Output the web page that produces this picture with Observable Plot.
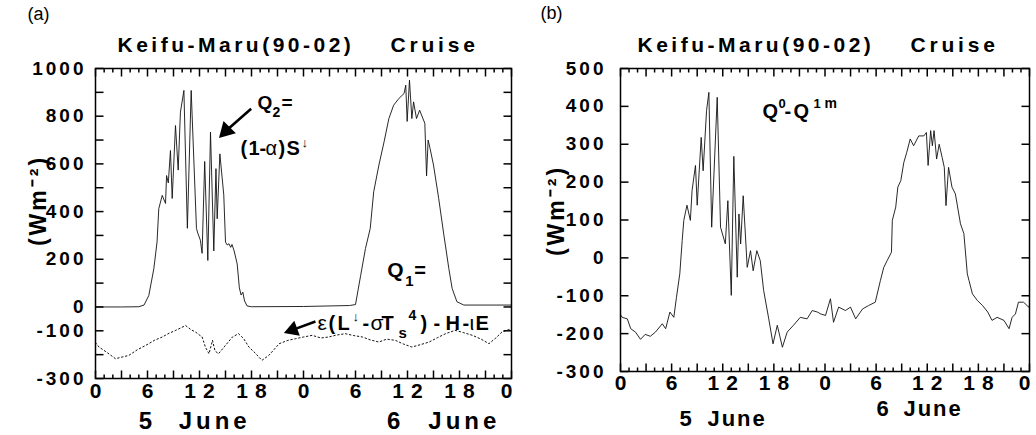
<!DOCTYPE html>
<html><head><meta charset="utf-8">
<script src="https://cdn.jsdelivr.net/npm/d3@7"></script>
<script src="https://cdn.jsdelivr.net/npm/@observablehq/plot@0.6"></script>
<style>
body{margin:0;background:#fff;}
#wrap{display:flex;width:1036px;height:435px;}
svg{background:#fff;font-family:"Liberation Sans",Arial,Helvetica,sans-serif;}
svg text{font-family:"Liberation Sans",Arial,Helvetica,sans-serif;}
g[aria-label="y-axis tick label"] text{font-weight:bold;letter-spacing:3px;}
g[aria-label="x-axis tick label"] text{font-weight:bold;letter-spacing:7px;}
</style></head><body><div id="wrap"></div>
<script>
// ---------- data ----------
// Panel (a): Q2 = (1-alpha) S (net shortwave), W m-2, hours from 0:00 5 June
const q2Hours = [0,3,5,5.6,6.15,6.73,7.1,7.3,7.7,8.08,8.2,8.4,8.65,8.85,9.23,9.54,9.8,10.2,10.6,11.04,11.65,11.8,12.1,12.3,12.6,12.96,13.27,13.65,13.9,14.04,14.35,14.8,15.0,15.2,15.4,15.6,15.75,16.0,16.35,16.6,16.8,17.0,17.2,17.5,18,24,29.3,30.0,30.6,31.15,31.7,32.1,32.7,33.3,33.85,34.4,35.0,35.6,35.8,35.96,36.23,36.5,36.7,37.04,37.4,38.0,38.2,38.38,38.6,39.0,39.6,40.2,40.77,41.15,41.7,42.5,48];
const q2Values = [0,0,1,8,48,160,272,412,468,434,551,520,656,455,761,574,817,908,330,908,329,310,280,225,610,195,733,235,580,370,642,470,272,260,265,250,262,235,180,80,50,62,25,4,1,2,6,10,133,245,329,483,595,693,790,846,874,895,930,778,951,790,860,790,825,770,550,700,665,595,455,301,161,78,22,8,8];
// Panel (a): Q1 = eps(L - sigma Ts^4) - H - lE
const q1Hours = [0,0.4,1.3,2.3,3.85,4.8,5.8,6.8,7.7,8.5,9.2,10.4,11.0,11.5,12.3,12.7,13.1,13.5,13.8,14.2,15.0,15.8,16.5,17.1,17.7,18.5,19.2,20.0,21.2,22.2,23.1,24.0,25.0,26.0,26.9,27.8,28.8,29.8,30.8,31.7,32.7,33.6,34.6,35.5,36.5,37.5,38.5,39.5,40.4,41.5,42.5,43.5,44.5,45.4,46.2,46.9,48];
const q1Values = [-150,-168,-190,-217,-203,-180,-161,-140,-126,-110,-99,-78,-95,-104,-126,-170,-196,-140,-185,-196,-161,-126,-112,-133,-168,-196,-224,-203,-154,-140,-133,-126,-119,-130,-126,-118,-112,-120,-126,-138,-147,-135,-140,-155,-168,-158,-147,-128,-112,-98,-108,-119,-135,-154,-130,-105,-91];
// Panel (b): Q0 - Q1m
const qbHours = [0,0.2,0.8,1.2,1.76,2.35,2.9,3.5,4.1,4.9,5.3,5.8,6.26,6.57,6.96,7.24,7.43,7.8,8.2,8.4,8.8,9.0,9.47,9.7,10.1,10.37,10.7,11.35,11.74,12.3,12.6,13.0,13.3,13.7,13.9,14.1,14.4,14.87,15.26,15.57,16.0,16.4,16.8,17.4,17.9,18.4,19.0,19.56,20.3,21.1,21.9,22.5,23.1,23.5,24.06,24.64,25.0,25.6,26.4,26.99,27.6,28.4,29.1,29.9,30.5,30.9,31.3,31.8,31.9,32.3,32.55,32.9,33.25,33.6,34.0,34.4,35.0,35.6,35.9,36.1,36.4,36.6,36.8,37.1,37.4,37.75,38.0,38.2,38.5,38.9,39.3,39.9,40.3,40.7,40.9,41.3,41.86,42.5,43.1,43.6,44.2,45.0,45.6,45.96,46.35,46.7,47.3,47.9,48];
const qbValues = [-150,-157,-161,-187,-196,-215,-202,-207,-196,-174,-187,-143,-157,-104,-42,46,99,139,99,178,244,139,318,230,389,437,81,424,81,37,151,-99,268,-51,116,37,164,-25,19,-34,19,-7,-86,-161,-227,-178,-236,-196,-178,-157,-161,-139,-143,-148,-152,-108,-170,-130,-139,-130,-161,-135,-126,-117,-60,-25,-7,15,99,134,187,204,252,279,314,296,322,322,331,244,336,296,336,261,300,265,239,138,239,187,169,90,64,-42,-60,-95,-112,-126,-143,-165,-157,-165,-187,-157,-148,-117,-117,-130,-125];

// ticks and labels
const hourTicks = d3.range(0, 49);
const xLabelHours = [0, 6, 12, 18, 24, 30, 36, 42];
const xLabelEnd = [48];
const yTicksA = d3.range(-300, 1001, 100);
const yLabelsA = [1000, 800, 600, 400, 200, 0, -100, -300];
const yTicksB = d3.range(-300, 501, 100);
const yLabelsB = [500, 400, 300, 200, 100, 0, -100, -200, -300];
const titleLeft = "Keifu-Maru(90-02)";
const titleRight = "Cruise";
const yLabelText = "(Wm\u207B\u00B2)";

const pts = (hs, vs) => hs.map((h, i) => ({h, v: vs[i]}));
const q2Data = pts(q2Hours, q2Values);
const q1Data = pts(q1Hours, q1Values);
const qbData = pts(qbHours, qbValues);

const SANS = "Liberation Sans, Arial, sans-serif";
const SERIF = "Liberation Serif, Times New Roman, serif";

// inward tick marks on all four sides; lengths given in px, converted with the frame size
function tickMarks(yTicks, xDom, yDom, fw, fh) {
  const major = hourTicks.filter(h => h % 3 === 0);
  const minor = hourTicks.filter(h => h % 3 !== 0);
  const uy = (yDom[1] - yDom[0]) / fh, ux = (xDom[1] - xDom[0]) / fw;
  const s = {stroke: "black", strokeWidth: 1.5};
  const vt = (d, y0, len) => Plot.link(d, {...s, x1: h => h, x2: h => h, y1: () => y0, y2: () => y0 + len * uy});
  const ht = (d, x0, len) => Plot.link(d, {...s, y1: v => v, y2: v => v, x1: () => x0, x2: () => x0 + len * ux});
  return [
    vt(major, yDom[0], 8), vt(minor, yDom[0], 4), vt(major, yDom[1], -8), vt(minor, yDom[1], -4),
    ht(yTicks, xDom[0], 8), ht(yTicks, xDom[1], -8)
  ];
}

// annotation text made of pieces (anchor in data units, pieces offset in px)
function pieces(anchor, list) {
  return list.map(p => Plot.text([anchor], {
    x: "h", y: "v", text: () => p.t, dx: p.dx, dy: p.dy || 0,
    textAnchor: "start", lineAnchor: "middle", fontSize: p.size || 20,
    fontWeight: p.serif ? "normal" : "bold",
    fontFamily: p.serif ? SERIF : SANS,
    fill: "black"
  }));
}
function arrow(a, r) {
  return [
    Plot.link([a], {x1: "h1", y1: "v1", x2: "h2", y2: "v2", stroke: "black", strokeWidth: 2.6}),
    Plot.dot([a], {x: "h2", y: "v2", symbol: "triangle", r, fill: "black", stroke: "none", rotate: a.rot})
  ];
}
function titles(dxLeft, dxRight) {
  return [
    Plot.text([titleLeft], {frameAnchor: "top-left", textAnchor: "start", lineAnchor: "middle", dx: dxLeft, dy: -23, fontSize: 21, fontWeight: "bold"}),
    Plot.text([titleRight], {frameAnchor: "top-left", textAnchor: "start", lineAnchor: "middle", dx: dxRight, dy: -23, fontSize: 21, fontWeight: "bold"})
  ];
}
function dayLabels(list, size) {
  return list.map(d => Plot.text([d.t], {x: () => d.h, frameAnchor: "bottom", lineAnchor: "middle", dy: d.dy, textAnchor: d.anchor, fontSize: size, fontWeight: "bold"}));
}
function xLabels(pad) {
  const fmt = h => String(h % 24);
  return [
    Plot.axisX(xLabelHours, {anchor: "bottom", tickSize: 0, tickPadding: pad, tickFormat: fmt, fontSize: 21, dx: 3.5, label: null}),
    Plot.axisX(xLabelEnd, {anchor: "bottom", tickSize: 0, tickPadding: pad, tickFormat: fmt, fontSize: 21, dx: -1.5, label: null})
  ];
}
function spacing(svg, text, ls) {
  d3.select(svg).selectAll("text").filter(function() { return this.textContent === text; }).style("letter-spacing", ls + "px");
}

// ---------- panel (a) ----------
const chartA = Plot.plot({
  width: 518, height: 435,
  marginLeft: 95, marginRight: 7, marginTop: 68, marginBottom: 57,
  x: {domain: [0, 48]},
  y: {domain: [-300, 1000]},
  marks: [
    Plot.line(q2Data, {x: "h", y: "v", stroke: "#111", strokeWidth: 0.9}),
    Plot.line(q1Data, {x: "h", y: "v", stroke: "#111", strokeWidth: 1, strokeDasharray: "1.5,2.5"}),
    ...xLabels(5),
    Plot.axisY(yLabelsA, {anchor: "left", tickSize: 0, tickPadding: 9, tickFormat: d => String(d), fontSize: 19, label: null}),
    Plot.frame({stroke: "black", strokeWidth: 1.5}),
    ...titles(22, 295),
    Plot.text(["(a)"], {frameAnchor: "top-left", textAnchor: "start", lineAnchor: "middle", dx: -68, dy: -54, fontSize: 18, fontFamily: SERIF}),
    Plot.text([yLabelText], {frameAnchor: "left", textAnchor: "middle", lineAnchor: "middle", rotate: -90, dx: -57, dy: -23, fontSize: 23, fontWeight: "bold"}),
    ...dayLabels([
      {t: "5", h: 5.77, dy: 43, anchor: "middle"}, {t: "June", h: 9.6, dy: 43, anchor: "start"},
      {t: "6", h: 34.4, dy: 43, anchor: "middle"}, {t: "June", h: 38.4, dy: 43, anchor: "start"}
    ], 24),
    ...pieces({h: 18.69, v: 855}, [
      {t: "Q", dx: 0, size: 19}, {t: "2", dx: 15, dy: 9, size: 14}, {t: "=", dx: 24, size: 19}
    ]),
    ...pieces({h: 16.73, v: 664}, [
      {t: "(", dx: 0, size: 20}, {t: "1", dx: 8, size: 20}, {t: "-", dx: 19, size: 20},
      {t: "\u03B1", dx: 25, size: 20, serif: true}, {t: ")", dx: 38, size: 20},
      {t: "S", dx: 46, size: 20}, {t: "\u2193", dx: 61, dy: -6, size: 13}
    ]),
    ...arrow({h1: 17.96, v1: 831, h2: 15.07, v2: 739, rot: 225}, 6.5),
    ...pieces({h: 33.66, v: 153}, [
      {t: "Q", dx: 0, size: 21}, {t: "1", dx: 18, dy: 11, size: 15}, {t: "=", dx: 27, size: 20}
    ]),
    ...pieces({h: 25.61, v: -69}, [
      {t: "\u03B5", dx: 0, size: 21, serif: true}, {t: "(", dx: 11}, {t: "L", dx: 20},
      {t: "\u2193", dx: 35, dy: -7, size: 13}, {t: "-", dx: 45}, {t: "\u03C3", dx: 53, size: 21, serif: true},
      {t: "T", dx: 64}, {t: "s", dx: 81, dy: 10, size: 15}, {t: "4", dx: 91, dy: -8, size: 14},
      {t: ")", dx: 103}, {t: "-", dx: 116}, {t: "H", dx: 128}, {t: "-", dx: 145},
      {t: "\u03B9", dx: 152, size: 21, serif: true}, {t: "E", dx: 158}
    ]),
    ...arrow({h1: 25.38, v1: -61, h2: 22.75, v2: -96, rot: 250}, 6),
    ...tickMarks(yTicksA, [0, 48], [-300, 1000], 416, 310)
  ]
});

// ---------- panel (b) ----------
const chartB = Plot.plot({
  width: 518, height: 435,
  marginLeft: 102, marginRight: 7, marginTop: 68, marginBottom: 64,
  x: {domain: [0, 48]},
  y: {domain: [-300, 500]},
  marks: [
    Plot.line(qbData, {x: "h", y: "v", stroke: "#111", strokeWidth: 0.9}),
    ...xLabels(4),
    Plot.axisY(yLabelsB, {anchor: "left", tickSize: 0, tickPadding: 14, tickFormat: d => String(d), fontSize: 19, label: null}),
    Plot.frame({stroke: "black", strokeWidth: 1.5}),
    ...titles(17, 290),
    Plot.text(["(b)"], {frameAnchor: "top-left", textAnchor: "start", lineAnchor: "middle", dx: -80, dy: -55, fontSize: 18, fontFamily: SERIF}),
    Plot.text([yLabelText], {frameAnchor: "left", textAnchor: "middle", lineAnchor: "middle", rotate: -90, dx: -64, dy: -9.5, fontSize: 23, fontWeight: "bold"}),
    ...dayLabels([
      {t: "5", h: 7.63, dy: 47, anchor: "middle"}, {t: "June", h: 10.2, dy: 47, anchor: "start"},
      {t: "6", h: 30.75, dy: 37, anchor: "middle"}, {t: "June", h: 33.2, dy: 37, anchor: "start"}
    ], 22),
    ...pieces({h: 16.66, v: 386}, [
      {t: "Q", dx: 0, size: 20}, {t: "0", dx: 16, dy: -8, size: 13}, {t: "-", dx: 22, size: 20},
      {t: "Q", dx: 31, size: 20}, {t: "1", dx: 51, dy: -8, size: 13}, {t: "m", dx: 62, dy: -8, size: 14}
    ]),
    ...tickMarks(yTicksB, [0, 48], [-300, 500], 409, 303)
  ]
});

for (const svg of [chartA, chartB]) {
  spacing(svg, titleLeft, 3.5);
  spacing(svg, titleRight, 3.8);
  spacing(svg, yLabelText, 3);
}
spacing(chartA, "June", 4);
spacing(chartB, "June", 2);

document.getElementById("wrap").append(chartA, chartB);
</script></body></html>
